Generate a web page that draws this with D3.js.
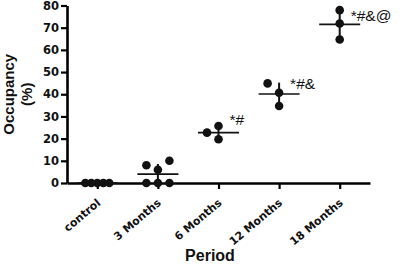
<!DOCTYPE html>
<html>
<head>
<meta charset="utf-8">
<script src="https://cdn.jsdelivr.net/npm/d3@7"></script>
<style>
  body { margin: 0; background: #fff; }
  svg { display: block; }
  text { font-family: "Liberation Sans", Arial, sans-serif; }
</style>
</head>
<body>
<svg id="chart"></svg>
<script>
// data
const periods = ["control", "3 Months", "6 Months", "12 Months", "18 Months"]
const occupancy = [
  [0, 0, 0, 0, 0],
  [0, 0, 0, 6, 8, 10],
  [19.7, 25.7, 22.7],
  [34.7, 40.7, 44.9],
  [64.7, 71.9, 77.9],
]
const marks = ["", "", "*#", "*#&", "*#&@"]
const markLevel = [null, null, 28.5, 45, 75.5]
const yTicks = [0, 10, 20, 30, 40, 50, 60, 70, 80]

const width = 400
const height = 265
const margin = { top: 5.5, right: 30, bottom: 82, left: 67 }
const wideBold = "'DejaVu Sans', sans-serif"

const svg = d3.select("#chart").attr("width", width).attr("height", height)

const x = d3
  .scalePoint()
  .domain(periods)
  .range([margin.left, width - margin.right])
  .padding(0.5)

const y = d3
  .scaleLinear()
  .domain([0, 80])
  .range([height - margin.bottom, margin.top])

// axes
const yAxis = svg
  .append("g")
  .attr("transform", `translate(${margin.left},0)`)
  .call(d3.axisLeft(y).tickValues(yTicks).tickSize(6).tickSizeOuter(0).tickPadding(2))
yAxis.select(".domain").attr("stroke-width", 2.6)
yAxis.selectAll(".tick line").attr("stroke-width", 2.2)
yAxis
  .selectAll("text")
  .style("font-family", wideBold)
  .style("font-size", "11.5px")
  .style("font-weight", "bold")
  .attr("fill", "#111")

const xAxis = svg
  .append("g")
  .attr("transform", `translate(0,${y(0)})`)
  .call(d3.axisBottom(x).tickSize(6).tickSizeOuter(0))
xAxis.select(".domain").attr("stroke-width", 2.6)
xAxis.selectAll(".tick line").attr("stroke-width", 2.2)
xAxis
  .selectAll("text")
  .style("font-family", wideBold)
  .style("font-size", "11px")
  .style("font-weight", "bold")
  .attr("fill", "#111")
  .attr("text-anchor", "end")
  .attr("dy", "0.35em")
  .attr("y", 0)
  .attr("transform", "translate(1,18) rotate(-40)")

// axis titles
const yTitle = svg
  .append("text")
  .attr("transform", `translate(14,${(y(0) + y(80)) / 2}) rotate(-90)`)
  .attr("text-anchor", "middle")
  .attr("font-size", 15)
  .attr("font-weight", "bold")
  .attr("fill", "#111")
yTitle.append("tspan").attr("x", 0).attr("y", 0).text("Occupancy")
yTitle.append("tspan").attr("x", 0).attr("y", 18).text("(%)")

svg
  .append("text")
  .attr("x", 210)
  .attr("y", 261)
  .attr("text-anchor", "middle")
  .attr("font-size", 16)
  .attr("font-weight", "bold")
  .attr("fill", "#111")
  .text("Period")

// scatter spread: slot dots sideways when they would overlap
const r = 4.3
const slotStep = 11.5
const maxSpread = 12
const spread = (values) => {
  const placed = []
  values.forEach((v) => {
    const py = y(v)
    for (let k = 0; ; k++) {
      const slot = k === 0 ? 0 : (k % 2 ? -1 : 1) * Math.ceil(k / 2)
      const hit = placed.some(
        (p) => Math.hypot((p.slot - slot) * slotStep, p.py - py) < 10
      )
      if (!hit) {
        placed.push({ v, py, slot })
        break
      }
    }
  })
  const widest = d3.max(placed, (p) => Math.abs(p.slot)) || 1
  const step = Math.min(slotStep, maxSpread / widest)
  return placed.map((p) => ({ v: p.v, dx: p.slot * step }))
}

const groups = periods.map((p, i) => {
  const vals = occupancy[i]
  return {
    period: p,
    mean: d3.mean(vals),
    sd: d3.deviation(vals) || 0,
    dots: spread(vals),
    mark: marks[i],
    markLevel: markLevel[i],
  }
})

const g = svg.append("g")

const grp = g
  .selectAll("g.grp")
  .data(groups)
  .join("g")
  .attr("class", "grp")
  .attr("transform", (d) => `translate(${x(d.period)},0)`)

// error bars (SD)
grp
  .append("line")
  .attr("x1", 0)
  .attr("x2", 0)
  .attr("y1", (d) => y(d.mean + d.sd))
  .attr("y2", (d) => y(d.mean - d.sd))
  .attr("stroke", "#111")
  .attr("stroke-width", 2)

// mean
grp
  .append("line")
  .attr("x1", -20.5)
  .attr("x2", 20.5)
  .attr("y1", (d) => y(d.mean))
  .attr("y2", (d) => y(d.mean))
  .attr("stroke", "#111")
  .attr("stroke-width", 1.6)

grp
  .selectAll("circle")
  .data((d) => d.dots)
  .join("circle")
  .attr("cx", (d) => d.dx)
  .attr("cy", (d) => y(d.v))
  .attr("r", r)
  .attr("fill", "#111")

// significance marks
grp
  .filter((d) => d.mark)
  .append("text")
  .attr("x", 11)
  .attr("y", (d) => y(d.markLevel))
  .attr("dy", "0.35em")
  .attr("font-size", 15.5)
  .attr("fill", "#111")
  .text((d) => d.mark)
</script>
</body>
</html>
